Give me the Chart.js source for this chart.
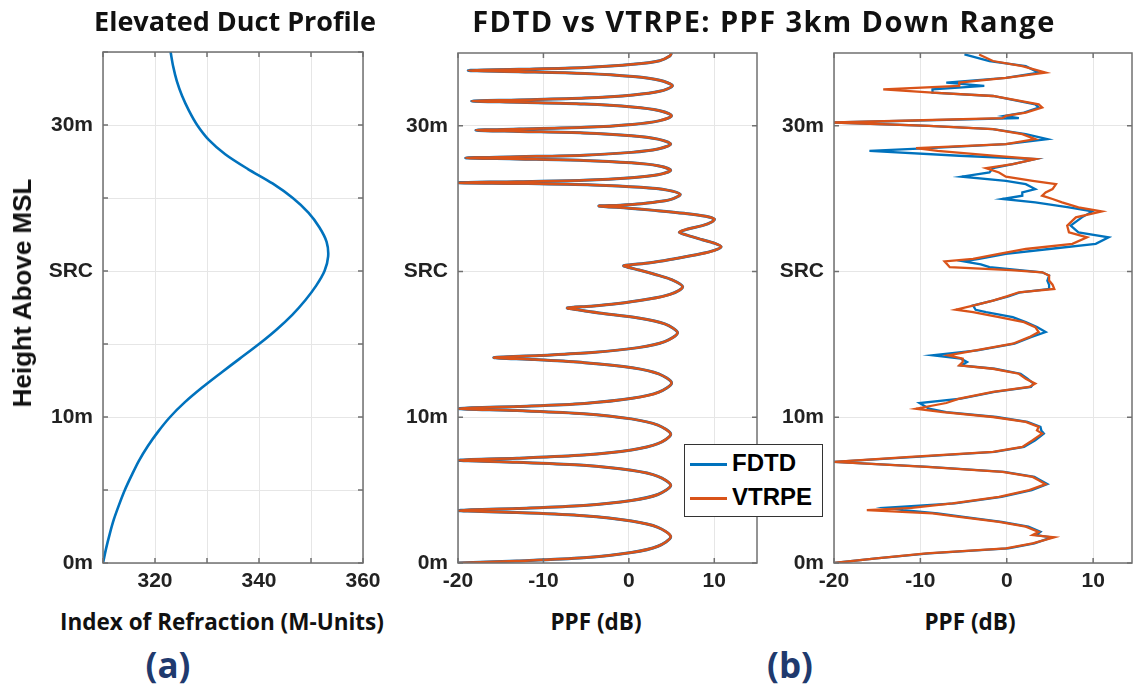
<!DOCTYPE html>
<html>
<head>
<meta charset="utf-8">
<title>Elevated Duct Profile / FDTD vs VTRPE</title>
<script src="https://cdn.jsdelivr.net/npm/chart.js"></script>
<style>
  body { margin: 0; background: #fff; width: 1135px; height: 689px; overflow: hidden; position: relative; }
  canvas { position: absolute; top: 0; }
  .lbl { position: absolute; white-space: nowrap; line-height: 1; transform: translate(-50%, -50%); color: #111; }
  .head { font-family: "Open Sans"; font-weight: 700; font-size: 27px; }
  .wide { font-size: 29px; letter-spacing: 1.4px; }
  .axis { font-family: "Open Sans"; font-weight: 700; font-size: 22.5px; }
  .ylab { font-family: "Liberation Sans", Arial; font-weight: 700; font-size: 26px; transform: translate(-50%, -50%) rotate(-90deg); }
  .tag { font-family: "Open Sans"; font-weight: 700; font-size: 35px; color: #1f3a6e; }
  #legend { position: absolute; left: 684px; top: 444px; width: 139px; height: 73px; box-sizing: border-box;
            border: 1.5px solid #333; background: #fff; font-family: "Liberation Sans", Arial; font-weight: 700; font-size: 24px; }
  #legend div { position: absolute; left: 5px; height: 24px; line-height: 24px; }
  #legend span { display: inline-block; width: 37px; height: 3px; vertical-align: middle; margin-right: 5px; }
</style>
</head>
<body>
  <canvas id="chartA" width="390" height="600" style="left:0px"></canvas>
  <canvas id="chartB1" width="390" height="600" style="left:380px"></canvas>
  <canvas id="chartB2" width="375" height="600" style="left:760px"></canvas>

  <div class="lbl head" style="left:235px; top:20px">Elevated Duct Profile</div>
  <div class="lbl head wide" style="left:764px; top:20px">FDTD vs VTRPE: PPF 3km Down Range</div>
  <div class="lbl ylab" style="left:22px; top:293px">Height Above MSL</div>
  <div class="lbl axis" style="left:222px; top:622px">Index of Refraction (M-Units)</div>
  <div class="lbl axis" style="left:596px; top:622px">PPF (dB)</div>
  <div class="lbl axis" style="left:970px; top:622px">PPF (dB)</div>
  <div class="lbl tag" style="left:168px; top:664px">(a)</div>
  <div class="lbl tag" style="left:790px; top:664px">(b)</div>

  <div id="legend">
    <div style="top:6px"><span style="background:#0072BD"></span>FDTD</div>
    <div style="top:40px"><span style="background:#D95319"></span>VTRPE</div>
  </div>

<script>
// (a) M-profile: height (m) -> refractivity (M-units)
const heightA = [0, 1, 2, 3, 4, 5, 6, 7, 8, 9, 10, 11, 12, 13, 14, 15, 16, 17, 18, 19,
                 20, 21, 22, 23, 24, 25, 26, 27, 28, 29, 30, 31, 32, 33, 34, 35];
const mUnitsA = [310, 310.6, 311.3, 312.1, 313.1, 314.2, 315.5, 316.9, 318.6, 320.6,
                 322.9, 325.7, 329.0, 332.6, 336.3, 340.0, 343.4, 346.4, 348.9, 351.0,
                 352.6, 353.3, 353.0, 351.6, 349.5, 346.5, 342.6, 337.8, 333.5, 330.3,
                 328.1, 326.5, 325.2, 324.2, 323.5, 323.0];

// (b) left: PPF, FDTD and VTRPE on top of each other
const b1Height = [
  0, 0.14, 0.36, 0.72, 1.15, 1.8, 2.45, 2.88, 3.24, 3.46,
  3.6, 3.74, 3.95, 4.29, 4.7, 5.33, 5.95, 6.36, 6.71, 6.91,
  7.05, 7.19, 7.41, 7.76, 8.19, 8.83, 9.46, 9.89, 10.25, 10.46,
  10.6, 10.74, 10.95, 11.3, 11.72, 12.35, 12.98, 13.4, 13.75, 13.96,
  14.1, 14.24, 14.44, 14.78, 15.19, 15.8, 16.41, 16.82, 17.16, 17.36,
  17.5, 17.62, 17.79, 18.08, 18.43, 18.95, 19.47, 19.82, 20.11, 20.28,
  20.4, 20.6, 20.9, 21.2, 21.45, 21.7, 21.95, 22.2, 22.5, 22.7, 22.9, 23.15, 23.4, 23.6, 23.8, 24.0, 24.2, 24.35,
  24.5, 24.56, 24.66, 24.82, 25.01, 25.3, 25.59, 25.78, 25.94, 26.04,
  26.1, 26.17, 26.27, 26.44, 26.64, 26.95, 27.26, 27.46, 27.63, 27.73,
  27.8, 27.88, 27.99, 28.18, 28.41, 28.75, 29.09, 29.32, 29.51, 29.62,
  29.7, 29.78, 29.9, 30.1, 30.34, 30.7, 31.06, 31.3, 31.5, 31.62,
  31.7, 31.78, 31.91, 32.12, 32.37, 32.75, 33.13, 33.38, 33.59, 33.72,
  33.8, 33.88, 34.01, 34.22, 34.47, 34.8, 35];
const b1Ppf = [
  -20, -13.1, -5.3, 0.3, 3.4, 4.9, 3.4, 0.3, -5.3, -13.1,
  -20, -13.1, -5.3, 0.3, 3.4, 4.9, 3.4, 0.3, -5.3, -13.1,
  -20, -13.1, -5.3, 0.3, 3.4, 4.9, 3.4, 0.3, -5.3, -13.1,
  -20, -13.0, -5.2, 0.4, 3.5, 5.0, 3.5, 0.4, -5.2, -11.0,
  -15.8, -10.5, -4.3, 1.1, 4.2, 5.7, 4.2, 1.1, -3.5, -5.8,
  -7.2, -4.5, -1.5, 2.0, 4.8, 6.3, 4.9, 3.0, 1.2, 0.0,
  -0.6, 2.5, 5.5, 8.3, 10.0, 10.8, 10.0, 8.5, 6.8, 5.9, 6.8, 8.6, 9.7, 10.0, 9.0, 6.5, 3.0, 0.0,
  -3.5, -1.0, 1.5, 3.8, 5.2, 6.0, 4.5, 1.4, -4.2, -12.0,
  -20, -13.1, -5.3, 0.3, 3.4, 4.9, 3.4, 0.3, -5.3, -13.0,
  -19.1, -13.0, -5.3, 0.3, 3.4, 4.9, 3.4, 0.3, -5.3, -12.8,
  -17.9, -12.8, -5.2, 0.4, 3.5, 5.0, 3.5, 0.4, -5.2, -12.9,
  -18.4, -12.9, -5.1, 0.5, 3.6, 5.1, 3.6, 0.5, -5.1, -12.9,
  -18.8, -12.9, -5.1, 0.5, 3.6, 4.8, 5.0];

// (b) right: PPF, the two solvers differ
const b2Height = [
  0, 0.32, 0.66, 1.0, 1.35, 1.76, 1.92, 2.14, 2.49, 2.83, 3.17, 3.4, 3.63, 3.79, 4.09,
  4.54, 5.0, 5.41, 5.68, 5.91, 6.26, 6.6, 6.94, 7.28, 7.62, 7.97, 8.42, 8.88, 9.1, 9.34,
  9.68, 10.02, 10.36, 10.59, 10.98, 11.28, 11.74, 12.08, 12.31, 12.65, 12.99, 13.33, 13.56, 13.79, 14.02,
  14.25, 14.59, 15.05, 15.5, 15.85, 16.19, 16.53, 16.87, 17.21, 17.38, 17.67, 18.01, 18.3, 18.58, 18.81,
  19.1, 19.38, 19.73, 19.95, 20.1, 20.3, 20.5, 20.7, 20.87, 21.21, 21.55, 21.9, 22.35, 22.69, 23.15,
  23.72, 24.13, 24.41, 24.75, 24.98, 25.21, 25.43, 25.66, 26.0, 26.23, 26.51, 26.8, 27.1, 27.38, 27.72,
  27.95, 28.29, 28.47, 28.74, 29.09, 29.43, 29.77, 30.0, 30.23, 30.53, 30.68, 30.91, 31.26, 31.48, 32.05,
  32.28, 32.51, 32.74, 32.97, 33.3, 33.65, 34.1, 34.45, 34.9];
const b2Vtrpe = [
  -20, -15.1, -9.3, -0.1, 3.0, 5.5, 3.0, 3.7, 2.2, -0.9, -5.5, -8.6, -16.2, -11.0, -6.3,
  -0.9, 2.6, 4.5, 3.7, 3.0, -0.5, -9.3, -20, -11.2, -1.6, 1.8, 3.0, 4.1, 3.5, 3.7,
  2.2, -1.6, -7.4, -10.5, -7.0, -5.5, -1.6, 2.6, 3.3, 2.2, 1.4, -1.6, -5.5, -5.1, -5.1,
  -6.8, -3.6, 0.7, 2.6, 3.7, 3.3, 2.0, -0.9, -3.9, -5.9, -3.9, -1.6, 0.0, 1.4, 5.5,
  5.3, 4.9, 4.9, 4.1, 0.5, -6.6, -6.9, -7.2, -3.9, -0.9, 2.2, 7.6, 9.3, 7.2, 7.0,
  8.0, 11.0, 8.3, 6.4, 5.3, 4.1, 4.5, 5.3, 5.7, 3.0, -0.1, -0.9, -2.4, 0.7, 3.3,
  -1.6, -8.0, -10.5, -0.1, 3.3, 1.8, -1.6, -9.0, -20, -0.5, -0.1, 2.2, 4.1, 3.7, -1.6,
  -8.6, -14.3, -5.5, -5.5, -0.1, 4.5, 1.8, -1.6, -3.2];
const b2Fdtd = [
  -20, -15.1, -9.0, 0.2, 3.2, 5.2, 3.4, 3.9, 2.5, -0.6, -5.0, -8.0, -12.0, -13.9, -6.0,
  -0.6, 2.9, 4.7, 3.9, 3.2, -0.3, -9.0, -20, -10.5, -1.4, 2.0, 3.3, 4.3, 4.0, 3.9,
  2.4, -1.2, -7.0, -9.0, -10.1, -5.3, -1.4, 2.8, 3.1, 2.4, 1.6, -1.4, -5.3, -4.6, -5.3,
  -8.6, -3.4, 0.9, 2.8, 4.5, 3.5, 2.2, 0.7, -2.4, -3.6, -3.9, -1.6, 0.2, 1.6, 5.0,
  4.9, 4.7, 4.9, 4.1, 1.5, -2.0, -3.0, -5.0, -3.2, -0.1, 4.9, 10.3, 11.8, 8.3, 7.4,
  8.7, 9.9, 7.2, 3.3, -0.5, 1.8, 1.8, 3.3, 2.2, -0.1, -5.2, -2.0, -1.6, 0.7, 3.3,
  -5.5, -15.9, -9.0, -0.1, 4.7, 2.2, -1.6, -9.0, -20, 1.4, -0.3, 2.0, 3.7, 3.3, -1.6,
  -8.6, -8.6, -2.6, -7.0, -0.1, 3.7, 2.2, -2.0, -4.9];

// tick labels
const heightTickValues = [0, 10, 20, 30];
const heightTickLabels = ['0m', '10m', 'SRC', '30m'];
const mTickLabels = [320, 340, 360];
const ppfTickLabels = [-20, -10, 0, 10];

const BLUE = '#0072BD';
const ORANGE = '#D95319';
const tickFont = { family: "'Liberation Sans', Arial", size: 21, weight: 'bold' };

function toPoints(xs, hs) {
  return hs.map((h, i) => ({ x: xs[i], y: h }));
}

// axes box with small inward tick marks, like the original plots
const boxPlugin = {
  id: 'box',
  afterDatasetsDraw(chart) {
    const { ctx, chartArea: a, scales } = chart;
    ctx.save();
    ctx.strokeStyle = '#707070';
    ctx.lineWidth = 1.5;
    ctx.beginPath();
    scales.x.ticks.forEach(t => {
      const p = scales.x.getPixelForValue(t.value);
      ctx.moveTo(p, a.bottom); ctx.lineTo(p, a.bottom - 5);
      ctx.moveTo(p, a.top); ctx.lineTo(p, a.top + 5);
    });
    scales.y.ticks.forEach(t => {
      const p = scales.y.getPixelForValue(t.value);
      ctx.moveTo(a.left, p); ctx.lineTo(a.left + 5, p);
      ctx.moveTo(a.right, p); ctx.lineTo(a.right - 5, p);
    });
    ctx.stroke();
    ctx.strokeRect(a.left, a.top, a.right - a.left, a.bottom - a.top);
    ctx.restore();
  }
};

function makeChart(id, datasets, o) {
  return new Chart(document.getElementById(id), {
    type: 'scatter',
    data: { datasets },
    options: {
      responsive: false,
      animation: false,
      devicePixelRatio: 1,
      layout: { padding: { top: o.top, left: 0, right: o.right, bottom: 0 } },
      plugins: { legend: { display: false }, tooltip: { enabled: false } },
      elements: { point: { radius: 0 } },
      scales: {
        x: {
          type: 'linear', min: o.xMin, max: o.xMax,
          border: { display: false },
          grid: { color: '#e6e6e6', drawTicks: false },
          ticks: {
            stepSize: 10, includeBounds: false, autoSkip: false, maxRotation: 0,
            padding: 6, color: '#222', font: tickFont,
            callback: v => (o.xLabels.includes(v) ? String(v) : '')
          },
          afterFit: s => { s.height = 37; }
        },
        y: {
          type: 'linear', min: 0, max: 35,
          border: { display: false },
          grid: { color: '#e6e6e6', drawTicks: false },
          ticks: {
            stepSize: o.yStep, includeBounds: false, autoSkip: false,
            padding: 10, color: '#222', font: tickFont,
            callback: v => {
              const i = heightTickValues.indexOf(v);
              return i >= 0 ? heightTickLabels[i] : '';
            }
          },
          afterFit: s => { s.width = o.yWidth; }
        }
      }
    },
    plugins: [boxPlugin]
  });
}

makeChart('chartA', [
  { data: toPoints(mUnitsA, heightA), showLine: true, borderColor: BLUE, borderWidth: 2.6, tension: 0.3 }
], { top: 52, right: 27, yWidth: 103, xMin: 310, xMax: 360, xLabels: mTickLabels, yStep: 5 });

makeChart('chartB1', [
  { label: 'VTRPE', data: toPoints(b1Ppf, b1Height), showLine: true, borderColor: ORANGE, borderWidth: 2.5, tension: 0.3 },
  { label: 'FDTD', data: toPoints(b1Ppf, b1Height), showLine: true, borderColor: BLUE, borderWidth: 3, tension: 0.3 }
], { top: 53, right: 13, yWidth: 78, xMin: -20, xMax: 15, xLabels: ppfTickLabels, yStep: 10 });

makeChart('chartB2', [
  { label: 'VTRPE', data: toPoints(b2Vtrpe, b2Height), showLine: true, borderColor: ORANGE, borderWidth: 2.3, tension: 0 },
  { label: 'FDTD', data: toPoints(b2Fdtd, b2Height), showLine: true, borderColor: BLUE, borderWidth: 2.3, tension: 0 }
], { top: 53, right: 3, yWidth: 74, xMin: -20, xMax: 14.5, xLabels: ppfTickLabels, yStep: 10 });
</script>
</body>
</html>
